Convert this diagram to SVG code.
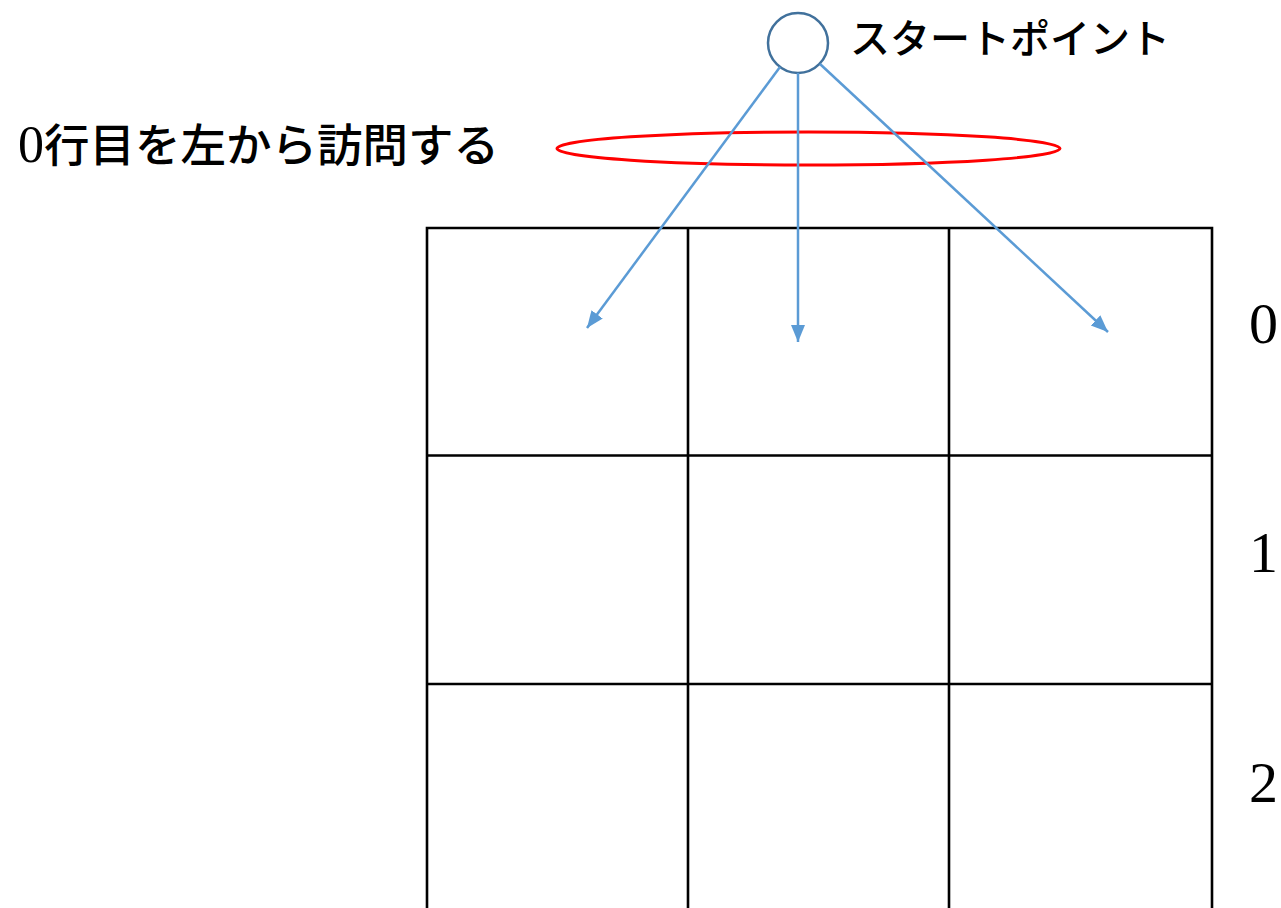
<svg xmlns="http://www.w3.org/2000/svg" width="1281" height="908" viewBox="0 0 1281 908">
<style>
.grid{stroke:#000;stroke-width:2.6;fill:none}
.conn{stroke:#5B9BD5;stroke-width:2.5;fill:none}
.jp{font-family:"Noto Sans CJK JP","Noto Sans",sans-serif;fill:#000;font-weight:500}
.num{font-family:"Liberation Serif","Times New Roman",serif;fill:#000}
</style>
<defs>
<marker id="ah" markerUnits="userSpaceOnUse" markerWidth="18" markerHeight="16" refX="17" refY="8" orient="auto">
<path d="M0,1 L17,8 L0,15 Z" fill="#5B9BD5"/>
</marker>
</defs>
<rect width="1281" height="908" fill="#fff"/>
<g id="grid">
<path class="grid" d="M427,908 V228 H1212 V908 M688,228 V908 M949,228 V908 M427,455.5 H1212 M427,684 H1212"/>
</g>
<g id="rowlabels">
<text class="num" x="1249" y="343" font-size="58">0</text>
<text class="num" x="1249" y="572" font-size="58">1</text>
<text class="num" x="1249" y="802" font-size="58">2</text>
</g>
<g id="start">
<circle cx="798" cy="43" r="30" fill="#fff" stroke="#41719C" stroke-width="2.5"/>
<text class="jp" x="850" y="53" font-size="40">スタートポイント</text>
</g>
<g id="highlight">
<ellipse cx="808.5" cy="148.5" rx="251.5" ry="16.5" fill="none" stroke="#FF0000" stroke-width="3"/>
</g>
<g id="label">
<text x="18" y="162"><tspan class="num" font-size="52">0</tspan><tspan class="jp" font-size="45.5">行目を左から訪問する</tspan></text>
</g>
<g id="connectors">
<line class="conn" x1="780" y1="67" x2="587" y2="328" marker-end="url(#ah)"/>
<line class="conn" x1="798" y1="73" x2="798" y2="342" marker-end="url(#ah)"/>
<line class="conn" x1="820" y1="64" x2="1108" y2="332" marker-end="url(#ah)"/>
</g>
</svg>
